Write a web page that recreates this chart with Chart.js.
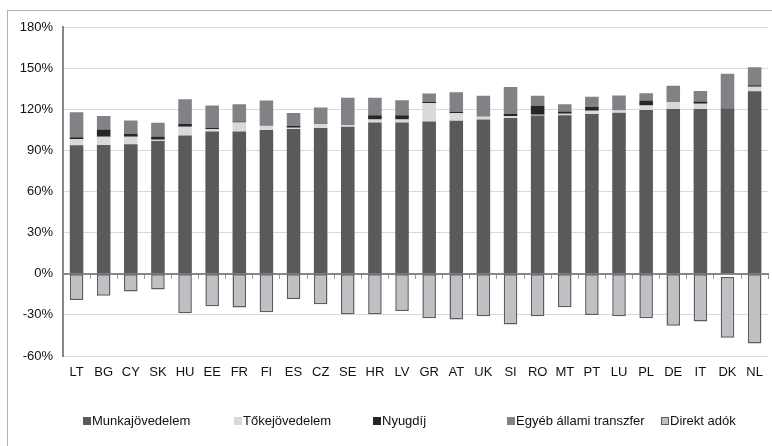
<!DOCTYPE html>
<html>
<head>
<meta charset="utf-8">
<script src="https://cdn.jsdelivr.net/npm/chart.js@4.4.1/dist/chart.umd.min.js"></script>
<style>
  html, body { margin: 0; padding: 0; background: #fff; }
  #wrap { position: relative; width: 772px; height: 446px; overflow: hidden; }
  #frame { position: absolute; left: 7px; top: 10px; width: 800px; height: 480px; border: 1px solid #b4b4b4; }
  #myChart { position: absolute; left: 0; top: 0; }
  #legend { position: absolute; top: 412px; left: 0; height: 18px; font: 13px "Liberation Sans", Arial, sans-serif; color: #111; }
  #legend span.item { position: absolute; white-space: nowrap; line-height: 18px; }
  #legend i { display: inline-block; width: 8px; height: 8px; margin-right: 1px; vertical-align: 0px; box-sizing: border-box; }
</style>
</head>
<body>
<div id="wrap">
  <div id="frame"></div>
  <canvas id="myChart" width="772" height="446"></canvas>
  <div id="legend"></div>
</div>
<script>
const countries = ['LT','BG','CY','SK','HU','EE','FR','FI','ES','CZ','SE','HR','LV','GR','AT','UK','SI','RO','MT','PT','LU','PL','DE','IT','DK','NL'];
// értékek a GDP %-ában
const munka   = [93.7, 94.0, 94.4, 96.9, 100.9, 103.8, 103.8, 104.9, 105.6, 106.3, 107.3, 110.4, 110.4, 111.1, 111.6, 112.6, 113.6, 115.5, 115.7, 116.5, 117.4, 119.4, 120.1, 120.1, 120.8, 133.2];
const toke    = [4.4, 6.0, 5.6, 0.9, 6.4, 1.8, 6.6, 3.1, 0.9, 3.1, 1.2, 2.2, 2.2, 13.4, 5.6, 1.9, 1.4, 0.5, 1.0, 2.4, 1.7, 3.3, 5.1, 3.9, -2.3, 3.3];
const nyugdij = [1.4, 5.3, 2.2, 2.4, 2.1, 0.9, 0.7, 0.3, 1.5, 0.8, 0.0, 3.1, 3.1, 0.9, 0.9, 0.0, 1.7, 6.3, 1.7, 2.9, 0.0, 3.6, 0.3, 1.6, 0.0, 1.0];
const egyeb   = [18.4, 9.7, 9.6, 10.0, 17.9, 16.2, 12.6, 18.0, 9.2, 11.1, 19.8, 12.6, 10.8, 6.0, 14.3, 15.3, 19.6, 7.5, 5.3, 7.4, 10.9, 5.4, 11.7, 7.8, 25.1, 13.1];
const direkt  = [-19.1, -16.0, -12.9, -11.5, -28.8, -23.7, -24.7, -28.1, -18.4, -22.3, -29.5, -29.5, -27.1, -32.4, -33.4, -31.0, -37.0, -31.0, -24.5, -30.0, -31.0, -32.4, -37.9, -34.8, -44.3, -50.9];
const yTicks  = [-60, -30, 0, 30, 60, 90, 120, 150, 180];

const legendX = [83, 234, 373, 507, 661];
const tickFont = { family: '"Liberation Sans", Arial, sans-serif', size: 13 };

const ctx = document.getElementById('myChart');
const myChart = new Chart(ctx, {
    type: 'bar',
    data: {
        labels: countries,
        datasets: [
            { label: 'Munkajövedelem', data: munka, backgroundColor: '#5a5a5c' },
            // negatív tőkejövedelem (DK) nem látszik az eredetin
            { label: 'Tőkejövedelem', data: toke, backgroundColor: c => (c.raw < 0 ? 'rgba(0,0,0,0)' : '#d9d9d9'), legendColor: '#d9d9d9' },
            { label: 'Nyugdíj', data: nyugdij, backgroundColor: '#262626' },
            { label: 'Egyéb állami transzfer', data: egyeb, backgroundColor: '#828286' },
            { label: 'Direkt adók', data: direkt, backgroundColor: '#c0c0c4', borderColor: '#5c5c5e', borderWidth: 1.5, borderSkipped: false }
        ]
    },
    options: {
        responsive: false,
        animation: false,
        barPercentage: 0.5,
        categoryPercentage: 1.0,
        layout: { padding: { left: 8, right: 3, top: 27, bottom: 62 } },
        plugins: {
            legend: { display: false },
            tooltip: { enabled: false }
        },
        scales: {
            x: {
                stacked: true,
                border: { display: false },
                grid: {
                    offset: true,
                    drawTicks: false,
                    color: c => (c.index === countries.length ? '#d4d4d4' : 'rgba(0,0,0,0)')
                },
                ticks: { color: '#111', font: tickFont, padding: 9, maxRotation: 0, autoSkip: false },
                afterFit: s => { s.height = 28; }
            },
            x0: {
                position: { y: 0 },
                border: { display: true, color: '#878787', width: 2 },
                grid: { offset: true, drawOnChartArea: false, tickLength: 4, color: '#9a9a9a', tickWidth: 1 },
                ticks: { display: false }
            },
            y: {
                stacked: true,
                min: -60,
                max: 180,
                afterBuildTicks: s => { s.ticks = yTicks.map(v => ({ value: v })); },
                border: { display: true, color: '#878787', width: 2 },
                grid: { color: '#d9d9d9', lineWidth: 1, drawTicks: false },
                ticks: { color: '#111', font: tickFont, padding: 10, callback: v => v + '%' },
                afterFit: s => { s.width = 55; }
            }
        }
    }
});

// jelmagyarázat az adatsorokból
const legend = document.getElementById('legend');
myChart.data.datasets.forEach((ds, i) => {
    const item = document.createElement('span');
    item.className = 'item';
    item.style.left = legendX[i] + 'px';
    const box = document.createElement('i');
    box.style.background = ds.legendColor || ds.backgroundColor;
    if (ds.borderWidth) box.style.border = '1px solid ' + ds.borderColor;
    item.appendChild(box);
    item.appendChild(document.createTextNode(ds.label));
    legend.appendChild(item);
});
</script>
</body>
</html>
